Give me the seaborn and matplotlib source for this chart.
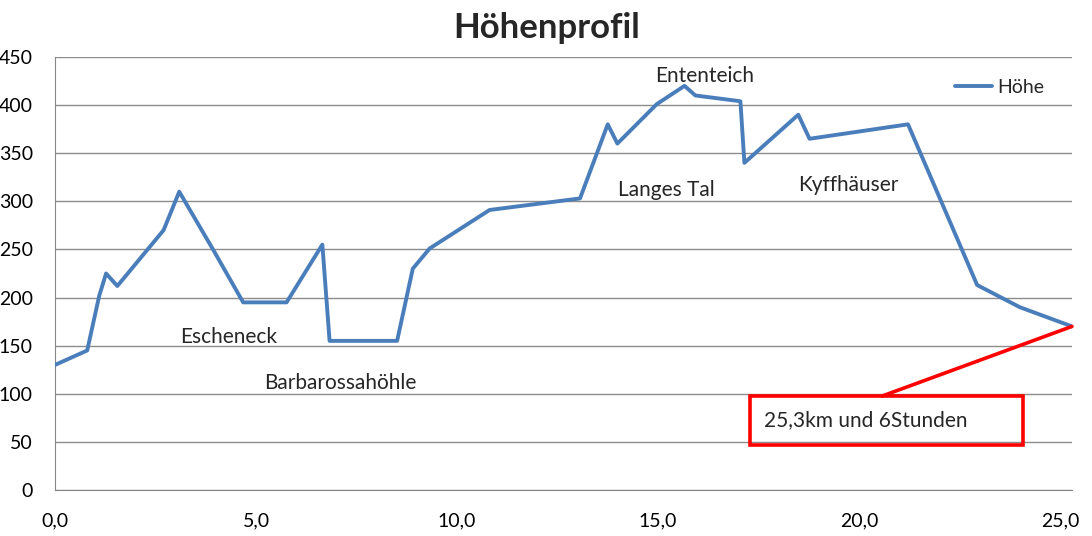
import matplotlib
matplotlib.use("Agg")
import matplotlib.pyplot as plt
import matplotlib.patches as mpatches
import pandas as pd
import seaborn as sns

# Distance (km) and height (m) along the route
distance_km = [0.0, 0.8, 1.1, 1.27, 1.55, 2.7, 3.09, 3.93, 4.68, 5.76, 6.65,
               6.83, 8.51, 8.9, 9.32, 10.81, 13.06, 13.75, 13.99, 14.97,
               15.66, 15.93, 17.05, 17.15, 18.49, 18.77, 21.22, 22.94,
               24.0, 25.3]
height_m = [130, 145, 202, 225, 212, 270, 310, 250, 195, 195, 255,
            155, 155, 230, 251, 291, 303, 380, 360, 401,
            420, 410, 404, 340, 390, 365, 380, 213,
            190, 170]

# Place names written on the chart
place_names = ["Ententeich", "Langes Tal", "Kyffhäuser", "Escheneck", "Barbarossahöhle"]
place_x = [16.17, 15.22, 19.74, 4.32, 7.09]
place_y = [430, 312, 317, 159, 111]

summary_text = "25,3km und 6Stunden"

df = pd.DataFrame({"Strecke": distance_km, "Höhe": height_m})

sns.set_style("white")
plt.rcParams["font.family"] = ["Lato", "DejaVu Sans"]

fig = plt.figure(figsize=(10.92, 5.36), dpi=100)
ax = fig.add_axes([0.0504, 0.0858, 0.9313, 0.8079])

sns.lineplot(data=df, x="Strecke", y="Höhe", color="#4A7EBB", linewidth=2.8,
             label="Höhe", ax=ax, zorder=3)

ax.set_xlim(0, 25.3)
ax.set_ylim(0, 450)
ax.set_xticks([0, 5, 10, 15, 20, 25])
ax.set_xticklabels(["0,0", "5,0", "10,0", "15,0", "20,0", "25,0"])
ax.set_yticks(range(0, 451, 50))
ax.set_xlabel("")
ax.set_ylabel("")
ax.yaxis.grid(True, color="#8C8C8C", linewidth=1)
ax.xaxis.grid(False)
for side in ["top", "right"]:
    ax.spines[side].set_visible(False)
for side in ["left", "bottom"]:
    ax.spines[side].set_color("#868686")
ax.tick_params(axis="both", which="both", direction="out", length=4,
               color="#868686", labelsize=14, labelcolor="black")
ax.tick_params(axis="x", pad=12)
ax.tick_params(axis="y", pad=12)

ax.set_title("Höhenprofil", fontsize=25, fontweight="bold", pad=14, x=0.483)

for name, x, y in zip(place_names, place_x, place_y):
    ax.text(x, y, name, fontsize=15, ha="center", va="center")

# red box with connector line to the end point
ax.add_patch(mpatches.Rectangle((17.29, 46.8), 6.79, 50.9, fill=False,
                                edgecolor="#FF0000", linewidth=2.6,
                                clip_on=False, zorder=4))
ax.plot([20.58, distance_km[-1]], [97.7, height_m[-1]], color="#FF0000",
        linewidth=2.6, clip_on=False, zorder=4)
ax.text(17.64, 72.5, summary_text, fontsize=15, ha="left", va="center")

ax.legend(loc="upper right", bbox_to_anchor=(0.99, 0.99), frameon=False,
          fontsize=14, handlelength=1.9, handletextpad=0.3)

fig.savefig("out.png", dpi=100)
